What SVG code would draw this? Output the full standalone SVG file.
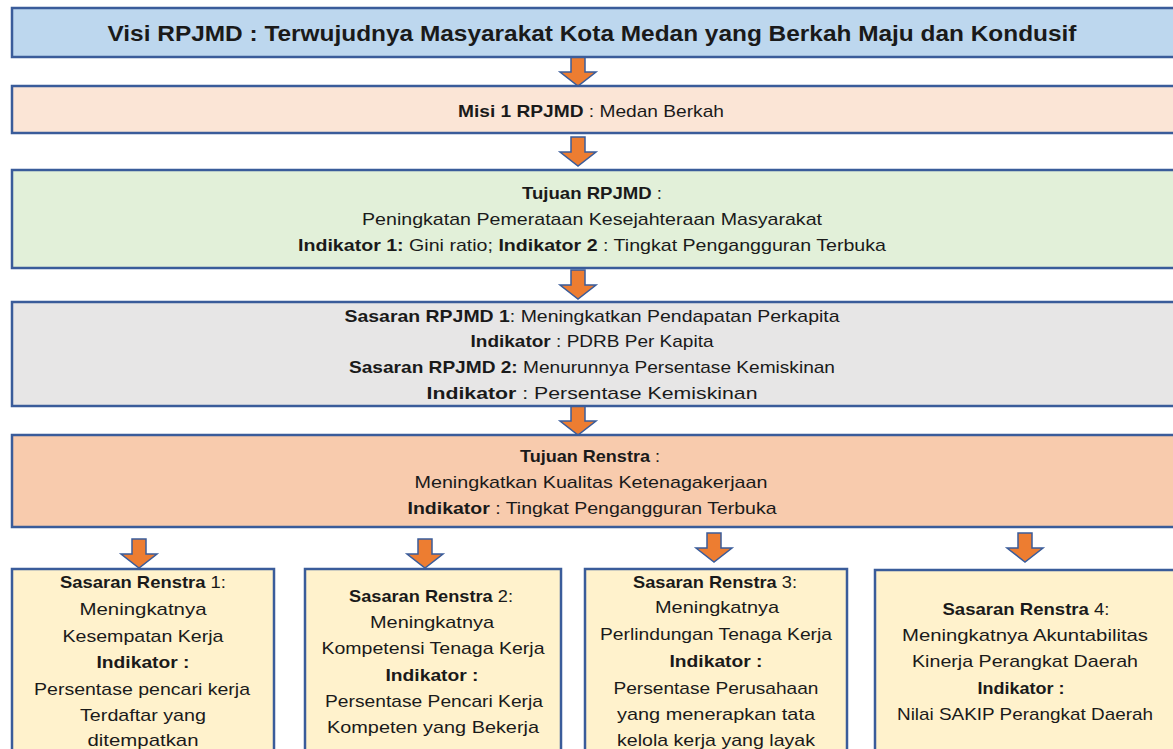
<svg xmlns="http://www.w3.org/2000/svg" width="1173" height="749" viewBox="0 0 1173 749">
<style>
.box{stroke:#3a5c9a;stroke-width:2.5}
.t{font-family:"Liberation Sans",Arial,sans-serif;font-size:17px;fill:#1a1a1a;text-anchor:middle}
.b{font-weight:bold}
.arr{fill:#ed7d31;stroke:#3a5c9a;stroke-width:1.5;stroke-linejoin:miter}
</style>
<defs>
<path id="arrow" d="M-7,0 H7 V15 H18 L0,29 L-18,15 H-7 Z"/>
</defs>
<rect width="1173" height="749" fill="#ffffff"/>
<g id="connectors">
<use href="#arrow" class="arr" x="578" y="57"/>
<use href="#arrow" class="arr" x="578" y="137"/>
<use href="#arrow" class="arr" x="578" y="270"/>
<use href="#arrow" class="arr" x="578" y="406"/>
<use href="#arrow" class="arr" x="139" y="539"/>
<use href="#arrow" class="arr" x="425" y="539"/>
<use href="#arrow" class="arr" x="714" y="533"/>
<use href="#arrow" class="arr" x="1025" y="533"/>
</g>
<g id="visi">
<rect class="box" x="12" y="8" width="1175" height="49" fill="#bdd7ee"/>
<text class="t b" x="592" y="41" style="font-size:22.5px" textLength="969" lengthAdjust="spacingAndGlyphs">Visi RPJMD : Terwujudnya Masyarakat Kota Medan yang Berkah Maju dan Kondusif</text>
</g>
<g id="misi">
<rect class="box" x="12" y="86" width="1175" height="47" fill="#fbe5d6"/>
<text class="t" x="591" y="117" textLength="266" lengthAdjust="spacingAndGlyphs"><tspan class="b">Misi 1 RPJMD</tspan> : Medan Berkah</text>
</g>
<g id="tujuan-rpjmd">
<rect class="box" x="12" y="170" width="1175" height="98" fill="#e2f0d9"/>
<text class="t" x="592" y="199" textLength="140" lengthAdjust="spacingAndGlyphs"><tspan class="b">Tujuan RPJMD</tspan> :</text>
<text class="t" x="592" y="225" textLength="460" lengthAdjust="spacingAndGlyphs">Peningkatan Pemerataan Kesejahteraan Masyarakat</text>
<text class="t" x="592" y="251" textLength="588" lengthAdjust="spacingAndGlyphs"><tspan class="b">Indikator 1:</tspan> Gini ratio; <tspan class="b">Indikator 2</tspan> : Tingkat Pengangguran Terbuka</text>
</g>
<g id="sasaran-rpjmd">
<rect class="box" x="12" y="302" width="1175" height="104" fill="#e7e6e6"/>
<text class="t" x="592" y="322" textLength="495" lengthAdjust="spacingAndGlyphs"><tspan class="b">Sasaran RPJMD 1</tspan>: Meningkatkan Pendapatan Perkapita</text>
<text class="t" x="592" y="347" textLength="243" lengthAdjust="spacingAndGlyphs"><tspan class="b">Indikator</tspan> : PDRB Per Kapita</text>
<text class="t" x="592" y="373" textLength="486" lengthAdjust="spacingAndGlyphs"><tspan class="b">Sasaran RPJMD 2:</tspan> Menurunnya Persentase Kemiskinan</text>
<text class="t" x="592" y="399" textLength="331" lengthAdjust="spacingAndGlyphs"><tspan class="b">Indikator</tspan> : Persentase Kemiskinan</text>
</g>
<g id="tujuan-renstra">
<rect class="box" x="12" y="435" width="1175" height="92" fill="#f8cbad"/>
<text class="t" x="590" y="462" textLength="140" lengthAdjust="spacingAndGlyphs"><tspan class="b">Tujuan Renstra</tspan> :</text>
<text class="t" x="591" y="488" textLength="353" lengthAdjust="spacingAndGlyphs">Meningkatkan Kualitas Ketenagakerjaan</text>
<text class="t" x="592" y="514" textLength="369" lengthAdjust="spacingAndGlyphs"><tspan class="b">Indikator</tspan> : Tingkat Pengangguran Terbuka</text>
</g>
<g id="sasaran-renstra-1">
<rect class="box" x="12" y="569" width="262" height="200" fill="#fff2cc"/>
<text class="t" x="143" y="588" textLength="166" lengthAdjust="spacingAndGlyphs"><tspan class="b">Sasaran Renstra</tspan> 1:</text>
<text class="t" x="143" y="615" textLength="127" lengthAdjust="spacingAndGlyphs">Meningkatnya</text>
<text class="t" x="143" y="642" textLength="161" lengthAdjust="spacingAndGlyphs">Kesempatan Kerja</text>
<text class="t b" x="143" y="668" textLength="93" lengthAdjust="spacingAndGlyphs">Indikator :</text>
<text class="t" x="142" y="695" textLength="216" lengthAdjust="spacingAndGlyphs">Persentase pencari kerja</text>
<text class="t" x="143" y="721" textLength="126" lengthAdjust="spacingAndGlyphs">Terdaftar yang</text>
<text class="t" x="143" y="746" textLength="111" lengthAdjust="spacingAndGlyphs">ditempatkan</text>
</g>
<g id="sasaran-renstra-2">
<rect class="box" x="305" y="569" width="256" height="200" fill="#fff2cc"/>
<text class="t" x="431" y="602" textLength="164" lengthAdjust="spacingAndGlyphs"><tspan class="b">Sasaran Renstra</tspan> 2:</text>
<text class="t" x="432" y="628" textLength="124" lengthAdjust="spacingAndGlyphs">Meningkatnya</text>
<text class="t" x="433" y="654" textLength="223" lengthAdjust="spacingAndGlyphs">Kompetensi Tenaga Kerja</text>
<text class="t b" x="432" y="681" textLength="93" lengthAdjust="spacingAndGlyphs">Indikator :</text>
<text class="t" x="434" y="707" textLength="218" lengthAdjust="spacingAndGlyphs">Persentase Pencari Kerja</text>
<text class="t" x="433" y="733" textLength="212" lengthAdjust="spacingAndGlyphs">Kompeten yang Bekerja</text>
</g>
<g id="sasaran-renstra-3">
<rect class="box" x="585" y="569" width="262" height="200" fill="#fff2cc"/>
<text class="t" x="715" y="588" textLength="164" lengthAdjust="spacingAndGlyphs"><tspan class="b">Sasaran Renstra</tspan> 3:</text>
<text class="t" x="717" y="613" textLength="124" lengthAdjust="spacingAndGlyphs">Meningkatnya</text>
<text class="t" x="716" y="640" textLength="232" lengthAdjust="spacingAndGlyphs">Perlindungan Tenaga Kerja</text>
<text class="t b" x="716" y="667" textLength="93" lengthAdjust="spacingAndGlyphs">Indikator :</text>
<text class="t" x="716" y="694" textLength="205" lengthAdjust="spacingAndGlyphs">Persentase Perusahaan</text>
<text class="t" x="716" y="720" textLength="198" lengthAdjust="spacingAndGlyphs">yang menerapkan tata</text>
<text class="t" x="716" y="746" textLength="198" lengthAdjust="spacingAndGlyphs">kelola kerja yang layak</text>
</g>
<g id="sasaran-renstra-4">
<rect class="box" x="875" y="570" width="310" height="200" fill="#fff2cc"/>
<text class="t" x="1026" y="615" textLength="167" lengthAdjust="spacingAndGlyphs"><tspan class="b">Sasaran Renstra</tspan> 4:</text>
<text class="t" x="1025" y="641" textLength="246" lengthAdjust="spacingAndGlyphs">Meningkatnya Akuntabilitas</text>
<text class="t" x="1025" y="667" textLength="226" lengthAdjust="spacingAndGlyphs">Kinerja Perangkat Daerah</text>
<text class="t b" x="1021" y="694" textLength="87" lengthAdjust="spacingAndGlyphs">Indikator :</text>
<text class="t" x="1025" y="720" textLength="256" lengthAdjust="spacingAndGlyphs">Nilai SAKIP Perangkat Daerah</text>
</g>
</svg>
